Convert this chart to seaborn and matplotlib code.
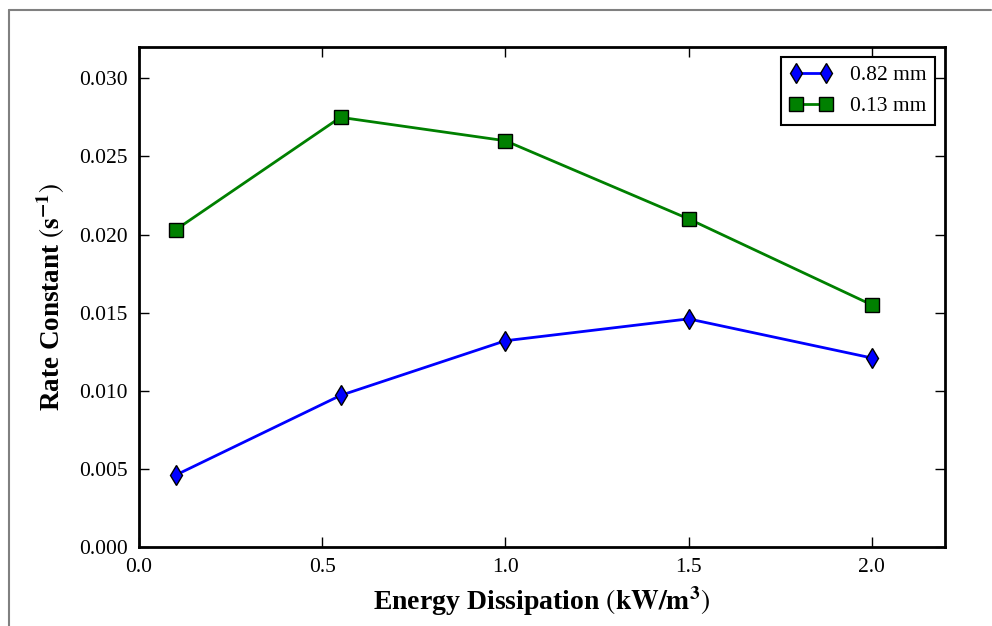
import matplotlib
matplotlib.use("Agg")
import matplotlib.pyplot as plt
import seaborn as sns
import pandas as pd
from matplotlib.lines import Line2D

energy = [0.1, 0.55, 1.0, 1.5, 2.0]
rate_082 = [0.0046, 0.0097, 0.0132, 0.0146, 0.0121]
rate_013 = [0.0203, 0.0275, 0.0260, 0.0210, 0.0155]
labels = ["0.82 mm", "0.13 mm"]
xticks = [0.0, 0.5, 1.0, 1.5, 2.0]
yticks = [0.000, 0.005, 0.010, 0.015, 0.020, 0.025, 0.030]

sns.set_style("ticks")
plt.rcParams['font.family'] = ['Liberation Serif', 'DejaVu Serif']
plt.rcParams['mathtext.fontset'] = 'stix'
plt.rcParams['text.color'] = 'black'
plt.rcParams['axes.labelcolor'] = 'black'
plt.rcParams['xtick.color'] = 'black'
plt.rcParams['ytick.color'] = 'black'

fig = plt.figure(figsize=(9.92, 6.26), dpi=100)
ax = fig.add_axes([139/992, 1-547/626, (945-139)/992, (547-47)/626])

df1 = pd.DataFrame({"x": energy, "y": rate_082})
df2 = pd.DataFrame({"x": energy, "y": rate_013})
sns.lineplot(data=df1, x="x", y="y", ax=ax, color="#0000ff", marker="d",
             markersize=10.5, markeredgecolor="black", markeredgewidth=1,
             linewidth=2, label=labels[0])
sns.lineplot(data=df2, x="x", y="y", ax=ax, color="#008000", marker="s",
             markersize=10.5, markeredgecolor="black", markeredgewidth=1,
             linewidth=2, label=labels[1])

ax.set_xlim(0, 2.2)
ax.set_ylim(0, 0.032)
ax.set_xticks(xticks)
ax.set_xticklabels([f"{v:.1f}" for v in xticks])
ax.set_yticks(yticks)
ax.set_yticklabels([f"{v:.3f}" for v in yticks])
ax.tick_params(direction="in", length=7, width=1, top=True, right=True,
               labelsize=15.5, pad=8, color="black", labelcolor="black")
for s in ax.spines.values():
    s.set_visible(True)
    s.set_linewidth(2)
    s.set_color("black")

ax.set_xlabel(r"Energy Dissipation $(\mathbf{kW/m^{3}})$", fontsize=20,
              fontweight="bold", labelpad=5)
ax.set_ylabel(r"Rate Constant $(\mathbf{s^{-1}})$", fontsize=19.5,
              fontweight="bold", labelpad=9)

leg = ax.legend(loc="upper right", numpoints=2, fontsize=15.5, fancybox=False,
                framealpha=1, edgecolor="black", borderaxespad=0.45,
                handlelength=2.0)
leg.get_frame().set_linewidth(1.5)
for t in leg.get_texts():
    t.set_color("black")

fig.add_artist(Line2D([9/992, 9/992], [0, 1-10/626], color="#808080", lw=1.5,
                      transform=fig.transFigure))
fig.add_artist(Line2D([9/992, 991/992], [1-10/626, 1-10/626], color="#808080",
                      lw=1.5, transform=fig.transFigure))

fig.savefig("out.png", dpi=100)
